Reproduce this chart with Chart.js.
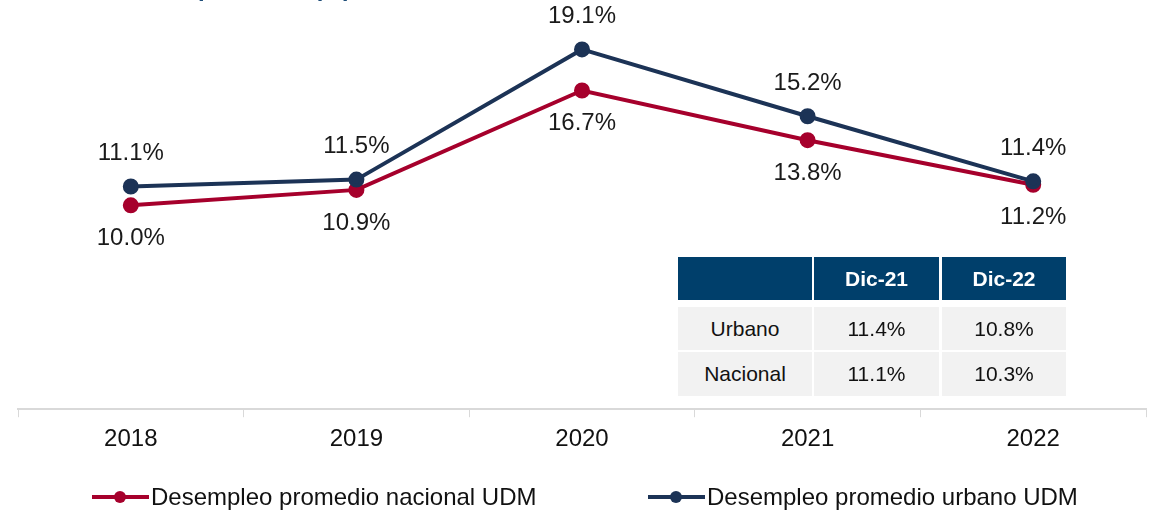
<!DOCTYPE html>
<html>
<head>
<meta charset="utf-8">
<script src="https://cdn.jsdelivr.net/npm/chart.js@4"></script>
<style>
  body { margin: 0; background: #fff; font-family: "Liberation Sans", Arial, sans-serif; }
  #wrap { position: relative; width: 1158px; height: 513px; overflow: hidden; }
  #title { position: absolute; left: 198px; top: -24px; font-size: 24px; line-height: 24px; font-weight: bold; color: #1f4e79; white-space: nowrap; }
  .cell { position: absolute; display: flex; align-items: center; justify-content: center; font-size: 21px; color: #111; background: #f2f2f2; }
  .cell.head { background: #003f6b; color: #fff; font-weight: bold; font-size: 21px; }
  .leg { position: absolute; top: 483px; height: 28px; display: flex; align-items: center; font-size: 24px; color: #111; white-space: nowrap; }
  .leg .ln { position: relative; width: 57px; height: 4px; margin-right: 2px; }
  .leg .dot { position: absolute; left: 22px; top: -4px; width: 12px; height: 12px; border-radius: 50%; }
</style>
</head>
<body>
<div id="wrap">
  <canvas id="myChart" width="1158" height="513"></canvas>
  <div id="title">promedio (%)</div>
  <div id="table"></div>
  <div id="legend"></div>
</div>
<script>
const years = ["2018", "2019", "2020", "2021", "2022"];
const nacional = [10.0, 10.9, 16.7, 13.8, 11.2];
const urbano = [11.1, 11.5, 19.1, 15.2, 11.4];
const seriesNames = ["Desempleo promedio nacional UDM", "Desempleo promedio urbano UDM"];
const tableCols = ["", "Dic-21", "Dic-22"];
const tableRows = [["Urbano", "11.4%", "10.8%"], ["Nacional", "11.1%", "10.3%"]];

const red = "#a6002c";
const navy = "#1c3356";

// value labels: urbano above the point, nacional below
const pointLabels = {
  id: "pointLabels",
  afterDatasetsDraw(chart) {
    const ctx = chart.ctx;
    ctx.save();
    ctx.font = '24px "Liberation Sans", Arial, sans-serif';
    ctx.fillStyle = "#1a1a1a";
    ctx.textAlign = "center";
    ctx.textBaseline = "middle";
    chart.data.datasets.forEach((ds, i) => {
      const meta = chart.getDatasetMeta(i);
      const dy = ds.labelPos === "above" ? -33 : 33;
      meta.data.forEach((pt, j) => {
        ctx.fillText(ds.data[j].toFixed(1) + "%", pt.x, pt.y + dy);
      });
    });
    ctx.restore();
  }
};

const ctx = document.getElementById("myChart").getContext("2d");
new Chart(ctx, {
  type: "line",
  data: {
    labels: years,
    datasets: [
      {
        label: seriesNames[0],
        data: nacional,
        borderColor: red,
        backgroundColor: red,
        borderWidth: 4,
        pointRadius: 6,
        pointHoverRadius: 6,
        labelPos: "below",
        order: 2,
      },
      {
        label: seriesNames[1],
        data: urbano,
        borderColor: navy,
        backgroundColor: navy,
        borderWidth: 4,
        pointRadius: 6,
        pointHoverRadius: 6,
        labelPos: "above",
        order: 1,
      },
    ],
  },
  options: {
    responsive: false,
    animation: false,
    layout: { padding: { left: 18, right: 12, top: 0, bottom: 51 } },
    plugins: {
      legend: { display: false },
      tooltip: { enabled: false },
    },
    scales: {
      x: {
        offset: true,
        grid: { drawOnChartArea: false, drawTicks: true, tickLength: 8, color: "#d9d9d9", offset: true },
        border: { color: "#d9d9d9", width: 2 },
        ticks: { color: "#111", font: { size: 24, family: '"Liberation Sans", Arial, sans-serif' }, padding: 8 },
      },
      y: {
        display: false,
        min: -1.9,
        max: 21.4,
      },
    },
  },
  plugins: [pointLabels],
});

// table overlay
const colX = [678, 814, 942];
const colW = [134, 125, 124];
const rowY = [257, 307, 352];
const rowH = [43, 43, 44];
const table = document.getElementById("table");
const allRows = [tableCols].concat(tableRows);
allRows.forEach((row, r) => {
  row.forEach((txt, c) => {
    const d = document.createElement("div");
    d.className = "cell" + (r === 0 ? " head" : "");
    d.style.left = colX[c] + "px";
    d.style.top = rowY[r] + "px";
    d.style.width = colW[c] + "px";
    d.style.height = rowH[r] + "px";
    d.textContent = txt;
    table.appendChild(d);
  });
});

// legend
const legend = document.getElementById("legend");
const legX = [92, 648];
[red, navy].forEach((col, i) => {
  const item = document.createElement("div");
  item.className = "leg";
  item.style.left = legX[i] + "px";
  item.innerHTML = '<span class="ln" style="background:' + col + '"><span class="dot" style="background:' + col + '"></span></span>' + seriesNames[i];
  legend.appendChild(item);
});
</script>
</body>
</html>
